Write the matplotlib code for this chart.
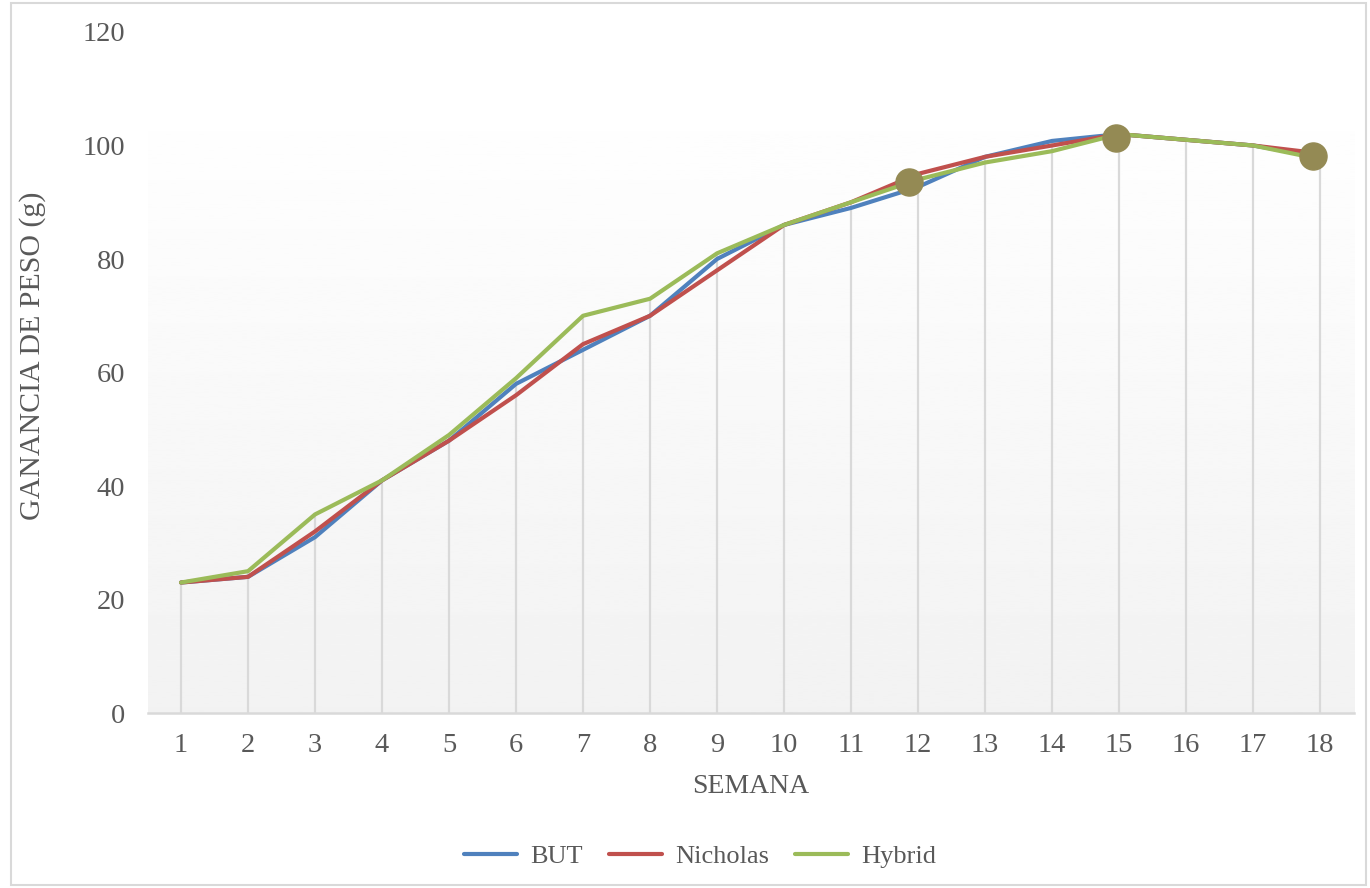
import numpy as np
import matplotlib.pyplot as plt
from matplotlib.patches import Rectangle

plt.rcParams['font.family'] = ['Liberation Serif', 'DejaVu Serif']

# weekly weight gain (g) per line
semanas = list(range(1, 19))
but = [23, 24, 31, 41, 48, 58, 64, 70, 80, 86, 89, 92.7, 98, 100.8, 102, 101, 100, 98]
nicholas = [23, 24, 32, 41, 48, 56, 65, 70, 78, 86, 90, 95, 98, 100, 102, 101, 100, 98.6]
hybrid = [23, 25, 35, 41, 49, 59, 70, 73, 81, 86, 90, 94, 97, 99, 102, 101, 100, 97.6]

# highlighted points
punto_x = [11.86, 14.95, 17.89]
punto_y = [93.6, 101.4, 98.2]

y_ticks = [0, 20, 40, 60, 80, 100, 120]

fig = plt.figure(figsize=(13.7, 8.88), dpi=100)
ax = fig.add_axes([0.1077, 0.197, 0.8803, 0.767])

# soft vertical gradient behind the lines
grad = np.linspace(0.949, 0.997, 256).reshape(-1, 1)
ax.imshow(grad, extent=[0.5, 18.5, 0, 104.2], origin='lower', aspect='auto',
          cmap='gray', vmin=0, vmax=1, zorder=0)

# drop lines down to the axis
tops = np.max([but, nicholas, hybrid], axis=0)
ax.vlines(semanas, 0, tops, colors='#D9D9D9', lw=1.6, zorder=1)

ax.plot(semanas, but, c='#4F81BD', lw=3.0, label='BUT', zorder=3, solid_capstyle='round')
ax.plot(semanas, nicholas, c='#C0504D', lw=3.0, label='Nicholas', zorder=4, solid_capstyle='round')
ax.plot(semanas, hybrid, c='#9BBB59', lw=3.0, label='Hybrid', zorder=5, solid_capstyle='round')
ax.plot(punto_x, punto_y, 'o', ms=19.5, c='#948A54', zorder=6)

ax.set_xlim(0.5, 18.5)
ax.set_ylim(0, 120)
ax.set_xticks(semanas)
ax.set_yticks(y_ticks)
ax.tick_params(length=0, labelsize=20.5, labelcolor='#595959')
ax.tick_params(axis='y', pad=16)
ax.tick_params(axis='x', pad=14)
for s in ['top', 'right', 'left']:
    ax.spines[s].set_visible(False)
ax.spines['bottom'].set_color('#D9D9D9')
ax.spines['bottom'].set_linewidth(1.8)
ax.set_facecolor('white')

ax.set_xlabel('SEMANA', fontsize=20, color='#595959', labelpad=12)
ax.set_ylabel('GANANCIA DE PESO (g)', fontsize=21.5, color='#595959', va='center')
ax.yaxis.set_label_coords(-0.095, 0.524)

fig.legend(loc='center', bbox_to_anchor=(0.511, 0.036), ncol=3, frameon=False,
           fontsize=19, labelcolor='#595959', handlelength=2.0, columnspacing=1.0,
           handletextpad=0.5)

# outer chart frame
fig.patches.append(Rectangle((11 / 1370, 3 / 888), 1355 / 1370, 882 / 888,
                             transform=fig.transFigure, fill=False,
                             edgecolor='#D9D9D9', lw=1.5))

plt.savefig('out.png', dpi=100)
